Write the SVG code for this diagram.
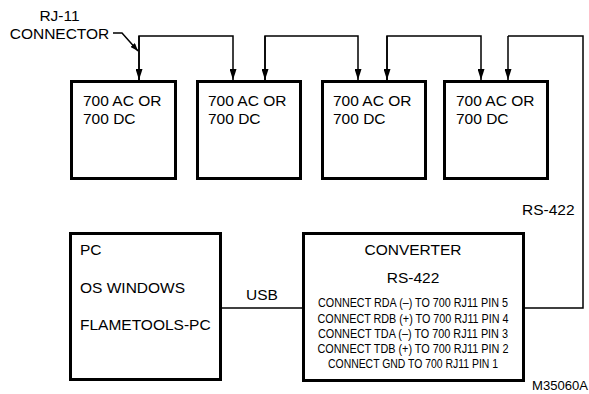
<svg xmlns="http://www.w3.org/2000/svg" width="589" height="394" viewBox="0 0 589 394">
<style>
.box{fill:#fff;stroke:#000;stroke-width:3}
.ln{fill:none;stroke:#000;stroke-width:1.5}
.t{font-family:"Liberation Sans",Arial,sans-serif;font-size:15.5px;fill:#000}
.s{font-family:"Liberation Sans",Arial,sans-serif;font-size:12.8px;fill:#000;text-anchor:middle}
.m{text-anchor:middle}
</style>
<defs>
<marker id="ah" markerWidth="11" markerHeight="7" refX="11" refY="3.5" viewBox="0 0 11 7" markerUnits="userSpaceOnUse" orient="auto">
<path d="M0,0 L11,3.5 L0,7 Z" fill="#000"/>
</marker>
<marker id="ah2" markerWidth="8" markerHeight="6" refX="8" refY="3" viewBox="0 0 8 6" markerUnits="userSpaceOnUse" orient="auto">
<path d="M0,0 L8,3 L0,6 Z" fill="#000"/>
</marker>
</defs>
<g id="connectors">
<path class="ln" d="M139,80 V36 H233 V80" marker-end="url(#ah)"/>
<path class="ln" d="M139,36 V80" marker-end="url(#ah)"/>
<path class="ln" d="M265,80 V36 H358 V80" marker-end="url(#ah)"/>
<path class="ln" d="M265,36 V80" marker-end="url(#ah)"/>
<path class="ln" d="M387,80 V36 H481 V80" marker-end="url(#ah)"/>
<path class="ln" d="M387,36 V80" marker-end="url(#ah)"/>
<path class="ln" d="M508,36 V80" marker-end="url(#ah)"/>
<path class="ln" d="M508,36 H583 V308 H525"/>
<path class="ln" d="M222,308 H302"/>
<path class="ln" d="M113,33 L122,33 L138,51" marker-end="url(#ah2)"/>
<text class="t m" x="262" y="300">USB</text>
<text class="t" x="522" y="215">RS-422</text>
</g>
<g id="rj11-label">
<text class="t m" x="59.5" y="21">RJ-11</text>
<text class="t m" x="59.5" y="38.5">CONNECTOR</text>
</g>
<g id="unit1">
<rect class="box" x="71.5" y="81.5" width="104" height="97"/>
<text class="t" x="83" y="106">700 AC OR</text>
<text class="t" x="83" y="124">700 DC</text>
</g>
<g id="unit2">
<rect class="box" x="197.5" y="81.5" width="103" height="97"/>
<text class="t" x="208" y="106">700 AC OR</text>
<text class="t" x="208" y="124">700 DC</text>
</g>
<g id="unit3">
<rect class="box" x="322.5" y="81.5" width="103" height="97"/>
<text class="t" x="333" y="106">700 AC OR</text>
<text class="t" x="333" y="124">700 DC</text>
</g>
<g id="unit4">
<rect class="box" x="444.5" y="81.5" width="103" height="97"/>
<text class="t" x="456" y="106">700 AC OR</text>
<text class="t" x="456" y="124">700 DC</text>
</g>
<g id="pc">
<rect class="box" x="70.5" y="233.5" width="150" height="146"/>
<text class="t" x="80" y="255">PC</text>
<text class="t" x="80" y="293">OS WINDOWS</text>
<text class="t" x="80" y="330">FLAMETOOLS-PC</text>
</g>
<g id="converter">
<rect class="box" x="303.5" y="233.5" width="220" height="147"/>
<text class="t m" x="413" y="255">CONVERTER</text>
<text class="t m" x="413" y="283">RS-422</text>
<text class="s" x="413" y="307" textLength="190" lengthAdjust="spacingAndGlyphs">CONNECT RDA (–) TO 700 RJ11 PIN 5</text>
<text class="s" x="413" y="322.5" textLength="191" lengthAdjust="spacingAndGlyphs">CONNECT RDB (+) TO 700 RJ11 PIN 4</text>
<text class="s" x="413" y="338" textLength="190" lengthAdjust="spacingAndGlyphs">CONNECT TDA (–) TO 700 RJ11 PIN 3</text>
<text class="s" x="413" y="353" textLength="191" lengthAdjust="spacingAndGlyphs">CONNECT TDB (+) TO 700 RJ11 PIN 2</text>
<text class="s" x="413" y="368" textLength="170" lengthAdjust="spacingAndGlyphs">CONNECT GND TO 700 RJ11 PIN 1</text>
</g>
<text class="t" x="532" y="390" style="font-size:13px" textLength="56" lengthAdjust="spacingAndGlyphs">M35060A</text>
</svg>
